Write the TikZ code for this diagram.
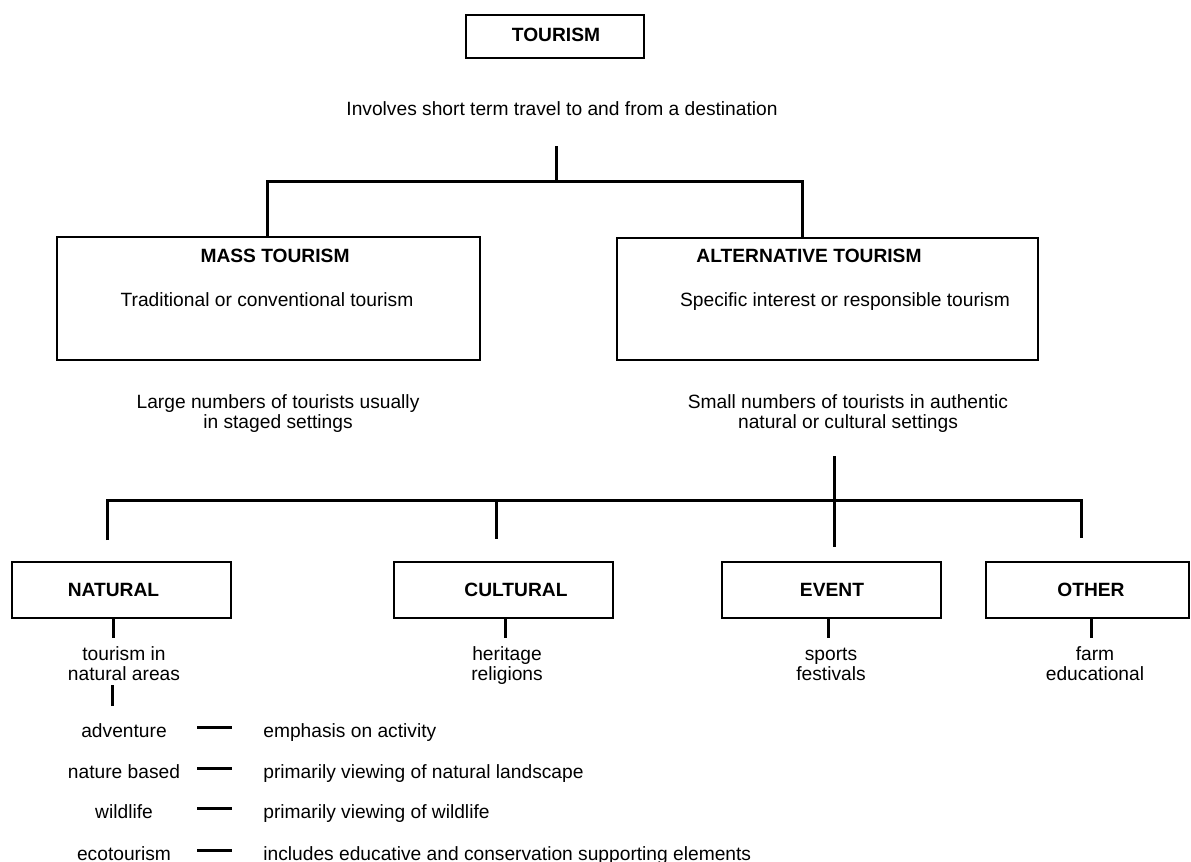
\documentclass[tikz,border=0pt]{standalone}
\usepackage{fontspec}
\setmainfont{Liberation Sans}
\newcommand{\figfont}{\fontsize{9.6}{10}\selectfont}
\begin{document}
\begin{tikzpicture}[x=0.5pt,y=-0.5pt,
        box/.style={draw,line width=1pt,inner sep=0pt},
        link/.style={line width=1.5pt},
        txt/.style={inner sep=0pt,font=\figfont},
        head/.style={inner sep=0pt,font=\figfont\bfseries},
        sub/.style={inner sep=0pt,align=center,font=\figfont}]
        \def\u{0.5pt}
        \useasboundingbox (0,0) rectangle (1191,862);

        % top level
        \node[box,minimum width=178*\u,minimum height=43*\u] (tourism) at (555,36.5) {};
        \node[head] (tourismT) at (556,35) {TOURISM};
        \node[txt,anchor=base] (travel) at (562,115) {Involves short term travel to and from a destination};
        \coordinate (stem) at (556,146);
        \draw[link] (stem) -- ++(0,35);

        \node[box,minimum width=423*\u,minimum height=123*\u] (mass) at (268.5,298.5) {};
        \node[box,minimum width=421*\u,minimum height=122*\u] (alt) at (827.5,299) {};
        \node[head] (massT) at (275,256) {MASS TOURISM};
        \node[txt,anchor=base] (massS) at (267,306) {Traditional or conventional tourism};
        \node[head] (altT) at (809,256) {ALTERNATIVE TOURISM};
        \node[txt,anchor=base] (altS) at (845,306) {Specific interest or responsible tourism};
        \coordinate (jl) at (267,181);
        \coordinate (jr) at (802,181);
        \draw[link] (mass.north -| jl) -- (jl) -- (jr) -- (alt.north -| jr);

        \node[sub] (massD) at (278,414) {Large numbers of tourists usually\\in staged settings};
        \node[sub] (altD) at (848,414) {Small numbers of tourists in authentic\\natural or cultural settings};

        % kinds of alternative tourism
        \coordinate (bl) at (107,500);
        \coordinate (bc) at (496,500);
        \coordinate (br) at (1081,500);
        \coordinate (st) at (834,456);
        \draw[link] (st) -- ++(0,91);
        \draw[link] (bl) ++(0,40) -- (bl) -- (br) -- ++(0,38);
        \draw[link] (bc) -- ++(0,39);

        \foreach \n/\x/\w/\t/\lx/\k/\dx/\dy/\d in {nat/121.5/219/NATURAL/113.5/113/124/664/{tourism in\\natural areas},
                cul/503.5/219/CULTURAL/516/505/507/666/{heritage\\religions},
                evt/831.5/219/EVENT/832/828/831/664/{sports\\festivals},
                oth/1087.5/203/OTHER/1091/1091/1095/664/{farm\\educational}} {
                \node[box,minimum width=\w*\u,minimum height=56*\u] (\n) at (\x,590) {};
                \node[head] (\n-t) at (\lx,590) {\t};
                \node[sub] (\n-d) at (\dx,\dy) {\d};
                \draw[link] ([xshift={(\k-\x)*\u}]\n.south) -- ++(0,19);
        }
        \coordinate (natE) at (112,706);
        \draw[link] (natE) -- ++(0,-21);

        \foreach \y/\a/\b [count=\i] in {737/adventure/emphasis on activity,
                778/nature based/primarily viewing of natural landscape,
                818/wildlife/primarily viewing of wildlife,
                860/ecotourism/includes educative and conservation supporting elements} {
                \node[txt,anchor=base] (kind\i) at (124,\y) {\a};
                \node[txt,anchor=base west] (note\i) at (263,\y) {\b};
                \draw[link] ([shift={(-66,-4)}]note\i.mid west) -- ++(35,0);
        }
\end{tikzpicture}
\end{document}
